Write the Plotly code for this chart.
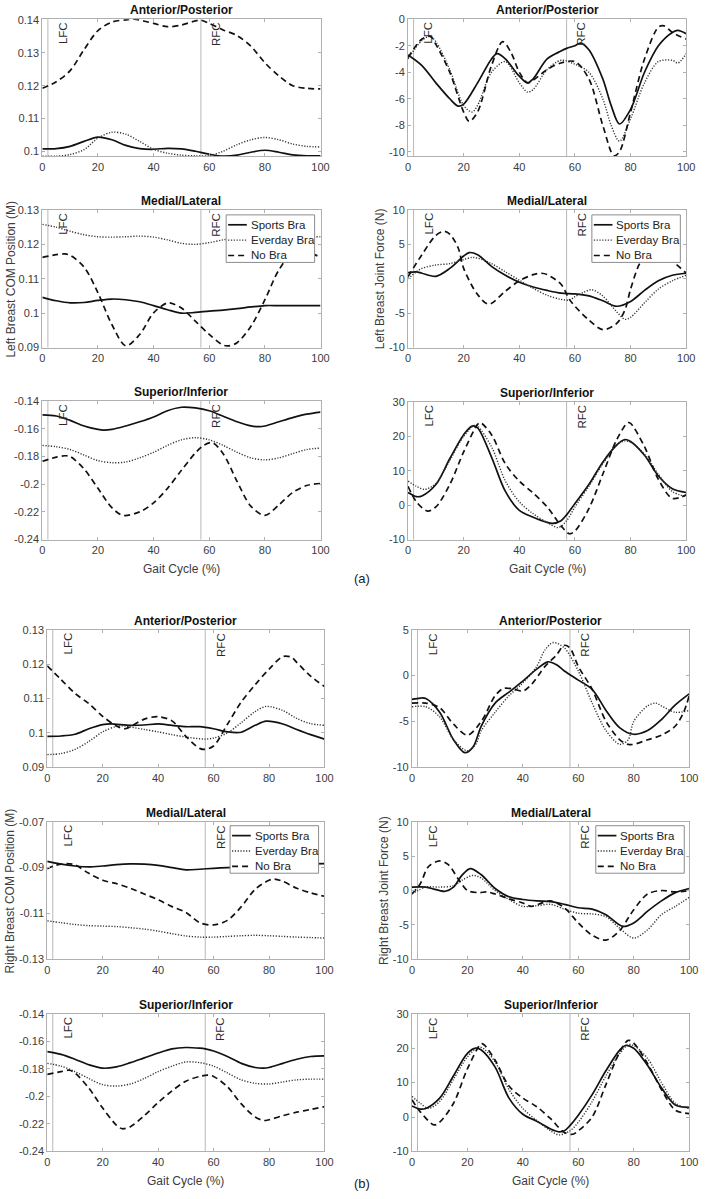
import plotly.graph_objects as go

W, H = 709, 1199
FONT = "Liberation Sans, Arial, Helvetica, sans-serif"

SERIES_NAMES = ["Sports Bra", "Everday Bra", "No Bra"]
GAIT_TICKS = [0, 20, 40, 60, 80, 100]
LFC_X = 2
RFC_X = 57

# ---------------- (a) Left breast ----------------
# COM position, Anterior/Posterior
LPOS_AP_SPORTS = [(0,.1007),(5,.1008),(10,.1015),(15,.1030),(20,.1043),(25,.1035),(30,.1018),(35,.1008),(40,.1006),(45,.1009),(50,.1007),(55,.1000),(60,.0991),(65,.0985),(70,.0988),(75,.0997),(80,.1003),(85,.0997),(90,.0989),(95,.0986),(100,.0986)]
LPOS_AP_EVERYDAY = [(0,.0985),(5,.0985),(10,.0990),(15,.1005),(20,.1040),(25,.1058),(30,.1052),(35,.1030),(40,.1006),(45,.0994),(50,.0988),(55,.0986),(60,.0987),(65,.1000),(70,.1020),(75,.1035),(80,.1042),(85,.1035),(90,.1022),(95,.1015),(100,.1013)]
LPOS_AP_NOBRA = [(0,.1192),(5,.1212),(10,.1246),(15,.1310),(20,.1368),(25,.1394),(30,.1401),(33,.1403),(40,.1390),(45,.1380),(50,.1385),(55,.1398),(57,.1400),(60,.1390),(65,.1370),(70,.1353),(75,.1320),(80,.1270),(85,.1230),(90,.1200),(95,.1192),(100,.1190)]
# Joint force, Anterior/Posterior
LFOR_AP_SPORTS = [(0,-2.7),(5,-3.5),(10,-4.8),(15,-6.0),(18,-6.55),(20,-6.4),(25,-4.8),(30,-3.0),(32,-2.6),(35,-3.0),(40,-4.3),(43,-4.8),(45,-4.5),(50,-3.0),(55,-2.4),(57,-2.2),(60,-2.0),(62,-1.8),(65,-2.3),(70,-4.5),(73,-6.5),(76,-7.9),(80,-6.8),(85,-4.0),(90,-2.0),(95,-1.0),(97,-0.85),(100,-1.1)]
LFOR_AP_EVERYDAY = [(0,-3.0),(5,-1.6),(8,-1.3),(10,-1.7),(15,-3.8),(20,-6.5),(23,-7.0),(25,-6.5),(30,-4.0),(35,-3.2),(40,-4.8),(43,-5.5),(45,-5.3),(50,-3.8),(55,-3.1),(60,-3.4),(65,-4.0),(70,-6.0),(73,-8.0),(76,-9.2),(80,-7.5),(85,-4.8),(90,-3.2),(95,-3.1),(97,-3.3),(100,-2.6)]
LFOR_AP_NOBRA = [(0,-2.9),(5,-1.5),(8,-1.3),(10,-1.9),(15,-4.0),(20,-7.0),(22,-7.7),(25,-7.0),(30,-3.5),(34,-1.7),(37,-2.5),(40,-4.0),(43,-4.8),(45,-4.6),(50,-3.8),(55,-3.3),(60,-3.2),(65,-4.5),(70,-8.0),(74,-10.3),(76,-10.0),(80,-7.0),(85,-3.0),(90,-0.6),(92,-0.5),(95,-1.0),(100,-1.5)]
# COM position, Medial/Lateral
LPOS_ML_SPORTS = [(0,.1046),(5,.1036),(10,.1030),(15,.1031),(20,.1037),(25,.1041),(30,.1039),(35,.1033),(40,.1022),(45,.1010),(50,.1000),(55,.1002),(60,.1006),(65,.1009),(70,.1013),(75,.1018),(80,.1022),(85,.1022),(90,.1022),(95,.1022),(100,.1022)]
LPOS_ML_EVERYDAY = [(0,.1258),(5,.1250),(10,.1238),(15,.1228),(20,.1222),(25,.1221),(30,.1222),(35,.1224),(40,.1221),(45,.1213),(50,.1203),(55,.1200),(60,.1205),(65,.1213),(70,.1218),(75,.1220),(80,.1220),(85,.1221),(90,.1222),(95,.1222),(100,.1222)]
LPOS_ML_NOBRA = [(0,.1162),(5,.1170),(8,.1172),(10,.1168),(15,.1134),(20,.1059),(25,.0967),(30,.0905),(35,.0938),(40,.1001),(45,.1030),(47,.1027),(50,.1015),(55,.0977),(60,.0938),(65,.0907),(67,.0905),(70,.0914),(75,.0962),(80,.1039),(85,.1125),(90,.1175),(95,.1178),(100,.1162)]
# Joint force, Medial/Lateral
LFOR_ML_SPORTS = [(0,0.9),(3,1.0),(5,0.8),(10,0.35),(15,1.5),(20,3.3),(22,3.8),(25,3.5),(30,1.8),(35,0.5),(40,-0.5),(45,-1.2),(50,-1.7),(55,-2.1),(60,-2.2),(65,-2.5),(70,-3.2),(75,-4.0),(80,-3.3),(85,-1.7),(90,-0.3),(95,0.5),(100,0.8)]
LFOR_ML_EVERYDAY = [(0,0.0),(3,1.0),(5,1.5),(10,2.0),(15,2.2),(20,2.8),(23,3.1),(25,3.0),(30,2.2),(35,1.0),(40,-0.2),(45,-1.4),(50,-2.4),(55,-3.0),(58,-3.1),(60,-2.6),(63,-2.0),(66,-1.6),(70,-2.5),(75,-4.8),(78,-5.9),(80,-5.6),(85,-3.5),(90,-1.5),(95,-0.3),(100,0.5)]
LFOR_ML_NOBRA = [(0,0.3),(5,3.5),(10,6.3),(13,6.9),(15,6.5),(18,4.5),(20,1.5),(25,-2.3),(29,-3.7),(35,-1.8),(40,-0.3),(45,0.6),(48,0.8),(50,0.6),(55,-0.8),(58,-3.0),(60,-4.0),(65,-6.0),(70,-7.4),(75,-6.5),(78,-4.5),(80,-1.5),(83,2.0),(85,3.2),(90,3.5),(95,2.5),(100,0.8)]
# COM position, Superior/Inferior
LPOS_SI_SPORTS = [(0,-.150),(5,-.1508),(10,-.154),(15,-.158),(20,-.1605),(22,-.161),(25,-.1605),(30,-.158),(35,-.155),(40,-.1515),(45,-.147),(50,-.1445),(55,-.145),(60,-.147),(65,-.151),(70,-.155),(75,-.158),(78,-.1585),(80,-.158),(85,-.155),(90,-.152),(95,-.1495),(100,-.148)]
LPOS_SI_EVERYDAY = [(0,-.172),(5,-.173),(10,-.175),(15,-.179),(20,-.183),(25,-.1845),(30,-.184),(35,-.181),(40,-.177),(45,-.172),(50,-.168),(55,-.1665),(60,-.168),(65,-.172),(70,-.177),(75,-.181),(80,-.1825),(85,-.181),(90,-.178),(95,-.175),(100,-.174)]
LPOS_SI_NOBRA = [(0,-.1835),(5,-.1805),(8,-.1795),(10,-.180),(15,-.189),(20,-.203),(25,-.217),(29,-.2225),(35,-.220),(40,-.2135),(45,-.203),(50,-.190),(55,-.1775),(58,-.172),(61,-.170),(65,-.178),(70,-.198),(75,-.216),(80,-.2225),(85,-.215),(90,-.206),(95,-.201),(100,-.1995)]
# Joint force, Superior/Inferior
LFOR_SI_SPORTS = [(0,3.7),(3,2.5),(5,2.7),(10,6.0),(15,13.5),(20,20.5),(23,23.0),(25,22.5),(30,14.0),(35,4.0),(40,-1.5),(45,-3.5),(50,-5.0),(52,-5.3),(55,-4.5),(57,-2.8),(60,0.5),(65,6.0),(70,12.5),(75,17.5),(78,19.1),(80,18.5),(85,14.5),(90,8.5),(95,4.8),(100,3.7)]
LFOR_SI_EVERYDAY = [(0,7.0),(3,5.5),(6,4.6),(10,6.3),(15,13.0),(20,20.0),(24,23.3),(25,23.0),(30,17.0),(35,7.0),(40,1.0),(45,-2.5),(50,-5.0),(54,-6.5),(57,-4.5),(60,-0.5),(65,5.5),(70,12.0),(75,17.5),(78,18.7),(80,18.3),(85,14.8),(90,9.0),(95,4.0),(100,2.5)]
LFOR_SI_NOBRA = [(0,5.5),(3,1.0),(7,-1.7),(10,-0.5),(15,6.0),(20,15.5),(25,23.5),(26,24.0),(30,20.5),(35,12.0),(40,7.0),(45,3.5),(50,-0.5),(55,-6.0),(58,-8.3),(60,-7.5),(65,-1.0),(70,9.0),(75,19.0),(79,24.0),(80,23.8),(85,17.0),(90,7.5),(95,2.0),(100,3.0)]

# ---------------- (b) Right breast ----------------
RPOS_AP_SPORTS = [(0,.0990),(5,.0991),(10,.0996),(15,.1012),(20,.1024),(23,.1026),(25,.1025),(30,.1022),(35,.1023),(40,.1026),(45,.1022),(50,.1018),(55,.1018),(60,.1012),(65,.1003),(70,.1002),(75,.1022),(79,.1034),(85,.1026),(90,.1010),(95,.0995),(100,.0982)]
RPOS_AP_EVERYDAY = [(0,.0937),(5,.0940),(10,.0952),(15,.0975),(20,.1003),(25,.1019),(28,.1020),(30,.1017),(35,.1010),(40,.1003),(45,.0995),(50,.0988),(55,.0983),(57,.0982),(60,.0985),(65,.1000),(70,.1030),(75,.1062),(79,.1077),(85,.1065),(90,.1042),(95,.1027),(100,.1022)]
RPOS_AP_NOBRA = [(0,.1195),(5,.1155),(10,.1115),(15,.1085),(20,.1048),(25,.1020),(28,.1012),(30,.1018),(35,.1040),(40,.1047),(45,.1035),(50,.0990),(55,.0955),(57,.0952),(60,.0962),(65,.1025),(70,.1090),(75,.1140),(80,.1185),(85,.1222),(88,.1220),(90,.1205),(95,.1165),(100,.1135)]
RFOR_AP_SPORTS = [(0,-2.6),(3,-2.45),(5,-2.5),(10,-4.0),(15,-7.0),(19,-8.4),(22,-7.8),(25,-5.5),(30,-3.0),(35,-1.8),(40,-0.6),(45,0.7),(49,1.5),(52,1.2),(55,0.5),(60,-0.5),(65,-1.5),(70,-3.8),(75,-5.7),(80,-6.4),(85,-6.0),(90,-4.8),(95,-3.2),(100,-2.0)]
RFOR_AP_EVERYDAY = [(0,-3.4),(5,-3.4),(10,-4.5),(15,-7.0),(20,-8.2),(23,-7.5),(25,-6.0),(30,-4.0),(35,-2.2),(40,-0.8),(45,1.0),(48,2.8),(51,3.6),(55,3.0),(60,0.5),(65,-3.0),(70,-6.0),(75,-7.5),(78,-7.0),(80,-5.0),(85,-3.3),(88,-3.0),(90,-3.3),(95,-4.0),(100,-3.8)]
RFOR_AP_NOBRA = [(0,-3.0),(5,-3.0),(10,-3.5),(15,-5.3),(20,-6.5),(25,-5.0),(30,-2.2),(33,-1.4),(37,-1.5),(40,-1.7),(43,-1.0),(48,1.0),(52,2.2),(55,3.3),(57,3.0),(60,1.0),(65,-1.5),(70,-5.0),(75,-7.0),(78,-7.5),(80,-7.5),(85,-7.0),(90,-6.5),(95,-5.5),(98,-4.0),(100,-2.2)]
RPOS_ML_SPORTS = [(0,-.0873),(5,-.0885),(10,-.0893),(15,-.0897),(20,-.0893),(25,-.0887),(30,-.0884),(35,-.0885),(40,-.0890),(45,-.0900),(50,-.0910),(55,-.0907),(60,-.0903),(65,-.0900),(70,-.0898),(75,-.0895),(80,-.0892),(85,-.0889),(90,-.0886),(95,-.0884),(100,-.0883)]
RPOS_ML_EVERYDAY = [(0,-.1132),(5,-.1140),(10,-.1148),(15,-.1153),(20,-.1155),(25,-.1157),(30,-.1162),(35,-.1168),(40,-.1177),(45,-.1188),(50,-.1198),(55,-.1203),(60,-.1203),(65,-.1200),(70,-.1197),(75,-.1195),(80,-.1197),(85,-.1200),(90,-.1203),(95,-.1205),(100,-.1207)]
RPOS_ML_NOBRA = [(0,-.0905),(3,-.0890),(7,-.0883),(10,-.0888),(15,-.0925),(20,-.0955),(25,-.0970),(30,-.0990),(35,-.1015),(40,-.1040),(45,-.1070),(50,-.1095),(55,-.1140),(60,-.1150),(65,-.1130),(70,-.1070),(75,-.0995),(80,-.0955),(82,-.0950),(85,-.0960),(90,-.0990),(95,-.1010),(100,-.1025)]
RFOR_ML_SPORTS = [(0,0.5),(5,0.5),(8,0.2),(10,0.0),(12,-0.1),(15,0.5),(18,2.2),(21,3.2),(25,2.3),(30,0.3),(35,-0.9),(40,-1.3),(45,-1.5),(50,-1.6),(55,-2.0),(60,-2.5),(65,-2.7),(70,-3.5),(76,-5.2),(80,-4.7),(85,-3.0),(90,-1.5),(95,-0.3),(100,0.3)]
RFOR_ML_EVERYDAY = [(0,-0.5),(5,0.5),(10,0.5),(15,0.7),(18,1.5),(22,2.2),(25,1.8),(30,0.0),(35,-1.3),(40,-2.3),(45,-2.2),(50,-2.0),(55,-2.7),(60,-3.3),(65,-3.4),(70,-3.8),(75,-5.5),(80,-6.9),(85,-5.7),(90,-3.5),(95,-2.3),(100,-1.0)]
RFOR_ML_NOBRA = [(0,-0.5),(3,1.0),(6,3.5),(10,4.3),(13,3.8),(17,1.5),(20,0.0),(24,-0.3),(27,-0.2),(30,-0.5),(35,-1.2),(40,-1.8),(43,-2.3),(47,-1.8),(50,-1.5),(55,-2.5),(60,-4.7),(65,-6.5),(70,-7.2),(75,-5.8),(78,-4.0),(80,-2.8),(85,-0.5),(90,0.0),(95,-0.2),(100,0.0)]
RPOS_SI_SPORTS = [(0,-.1675),(5,-.1695),(10,-.173),(15,-.177),(20,-.1795),(25,-.1785),(30,-.1755),(35,-.172),(40,-.1685),(45,-.1655),(50,-.1645),(55,-.165),(57,-.1655),(60,-.167),(65,-.171),(70,-.176),(75,-.179),(78,-.1795),(80,-.179),(85,-.176),(90,-.173),(95,-.171),(100,-.1705)]
RPOS_SI_EVERYDAY = [(0,-.176),(5,-.178),(10,-.182),(15,-.187),(20,-.1915),(25,-.1925),(30,-.191),(35,-.187),(40,-.182),(45,-.178),(50,-.175),(55,-.1755),(60,-.178),(65,-.183),(70,-.188),(75,-.1905),(80,-.191),(85,-.1895),(90,-.188),(95,-.1875),(100,-.1875)]
RPOS_SI_NOBRA = [(0,-.184),(5,-.182),(8,-.181),(10,-.183),(15,-.194),(20,-.2085),(25,-.221),(27,-.2235),(30,-.222),(35,-.214),(40,-.2045),(45,-.196),(50,-.189),(55,-.1855),(58,-.1845),(60,-.1855),(65,-.193),(70,-.2055),(75,-.215),(78,-.2175),(80,-.217),(85,-.214),(90,-.2115),(95,-.2095),(100,-.2075)]
RFOR_SI_SPORTS = [(0,3.2),(3,2.3),(5,2.5),(10,5.5),(15,12.0),(20,18.5),(23,20.0),(25,19.5),(30,14.5),(35,5.5),(40,0.8),(45,-1.2),(50,-3.5),(53,-4.3),(55,-4.0),(57,-2.5),(60,0.5),(65,6.5),(70,13.5),(75,19.5),(77,20.8),(80,20.0),(85,15.0),(90,8.5),(95,3.5),(100,2.8)]
RFOR_SI_EVERYDAY = [(0,6.0),(3,4.0),(6,2.5),(10,4.5),(15,11.0),(20,17.5),(24,20.3),(26,19.8),(30,16.0),(35,8.0),(40,2.5),(45,-1.0),(50,-4.0),(53,-5.2),(57,-4.0),(60,-1.5),(65,4.5),(70,12.0),(75,18.5),(78,21.0),(80,20.8),(85,17.0),(90,10.0),(95,4.0),(100,2.5)]
RFOR_SI_NOBRA = [(0,5.0),(3,1.5),(8,-2.3),(10,-1.5),(15,4.0),(20,14.0),(25,21.3),(26,21.0),(30,16.5),(35,9.0),(40,5.5),(45,3.0),(50,-0.5),(55,-4.5),(58,-5.0),(60,-4.0),(65,0.0),(70,9.5),(75,19.0),(78,22.3),(80,21.5),(85,15.5),(90,8.0),(95,2.0),(100,1.0)]

# axis tick values
POS_AP_TICKS_A = [0.10, 0.11, 0.12, 0.13, 0.14]
POS_AP_TICKS_B = [0.09, 0.10, 0.11, 0.12, 0.13]
POS_ML_TICKS_A = [0.09, 0.10, 0.11, 0.12, 0.13]
POS_ML_TICKS_B = [-0.13, -0.11, -0.09, -0.07]
POS_SI_TICKS = [-0.24, -0.22, -0.20, -0.18, -0.16, -0.14]
FOR_AP_TICKS_A = [-10, -8, -6, -4, -2, 0]
FOR_AP_TICKS_B = [-10, -5, 0, 5]
FOR_ML_TICKS = [-10, -5, 0, 5, 10]
FOR_SI_TICKS = [-10, 0, 10, 20, 30]

# ---------------- layout / panel definitions (pixel boxes) ----------------
PANELS = [
    dict(box=(40, 323, 13.3, 152), yr=[0.0984, 0.1403], ticks=POS_AP_TICKS_A, title="Anterior/Posterior",
         data=[LPOS_AP_SPORTS, LPOS_AP_EVERYDAY, LPOS_AP_NOBRA]),
    dict(box=(412, 695, 13.3, 152), yr=[-10.35, 0], ticks=FOR_AP_TICKS_A, title="Anterior/Posterior",
         data=[LFOR_AP_SPORTS, LFOR_AP_EVERYDAY, LFOR_AP_NOBRA]),
    dict(box=(40, 323, 206, 345), yr=[0.09, 0.13], ticks=POS_ML_TICKS_A, title="Medial/Lateral",
         data=[LPOS_ML_SPORTS, LPOS_ML_EVERYDAY, LPOS_ML_NOBRA], ylabel="Left Breast COM Position (M)",
         ylabel_x=8, legend=(227, 211)),
    dict(box=(412, 695, 206, 345), yr=[-10, 10], ticks=FOR_ML_TICKS, title="Medial/Lateral",
         data=[LFOR_ML_SPORTS, LFOR_ML_EVERYDAY, LFOR_ML_NOBRA], ylabel="Left Breast Joint Force (N)",
         ylabel_x=383, legend=(599, 211)),
    dict(box=(40, 323, 399, 539), yr=[-0.24, -0.14], ticks=POS_SI_TICKS, title="Superior/Inferior",
         data=[LPOS_SI_SPORTS, LPOS_SI_EVERYDAY, LPOS_SI_NOBRA], xlabel=True),
    dict(box=(412, 695, 400, 539), yr=[-10, 30], ticks=FOR_SI_TICKS, title="Superior/Inferior",
         data=[LFOR_SI_SPORTS, LFOR_SI_EVERYDAY, LFOR_SI_NOBRA], xlabel=True),
    dict(box=(45, 327, 630, 769), yr=[0.09, 0.13], ticks=POS_AP_TICKS_B, title="Anterior/Posterior",
         data=[RPOS_AP_SPORTS, RPOS_AP_EVERYDAY, RPOS_AP_NOBRA]),
    dict(box=(416, 698, 630, 769), yr=[-10, 5], ticks=FOR_AP_TICKS_B, title="Anterior/Posterior",
         data=[RFOR_AP_SPORTS, RFOR_AP_EVERYDAY, RFOR_AP_NOBRA]),
    dict(box=(45, 327, 824, 963), yr=[-0.13, -0.07], ticks=POS_ML_TICKS_B, title="Medial/Lateral",
         data=[RPOS_ML_SPORTS, RPOS_ML_EVERYDAY, RPOS_ML_NOBRA], ylabel="Right Breast COM Position (M)",
         ylabel_x=7, legend=(231, 828)),
    dict(box=(416, 698, 824, 963), yr=[-10, 10], ticks=FOR_ML_TICKS, title="Medial/Lateral",
         data=[RFOR_ML_SPORTS, RFOR_ML_EVERYDAY, RFOR_ML_NOBRA], ylabel="Right Breast Joint Force (N)",
         ylabel_x=387, legend=(603, 828)),
    dict(box=(45, 327, 1018, 1157), yr=[-0.24, -0.14], ticks=POS_SI_TICKS, title="Superior/Inferior",
         data=[RPOS_SI_SPORTS, RPOS_SI_EVERYDAY, RPOS_SI_NOBRA], xlabel=True),
    dict(box=(416, 698, 1018, 1157), yr=[-10, 30], ticks=FOR_SI_TICKS, title="Superior/Inferior",
         data=[RFOR_SI_SPORTS, RFOR_SI_EVERYDAY, RFOR_SI_NOBRA], xlabel=True),
]

STYLES = [
    dict(color="#111111", width=1.7, dash="solid"),
    dict(color="#333333", width=1.4, dash="1.2px,1.6px"),
    dict(color="#111111", width=1.7, dash="6px,4px"),
]

AXIS_COLOR = "#b0b0b0"
TEXT_COLOR = "#3c3c3c"
LEGEND_W, LEGEND_H = 90, 48
LEGEND_ROWS = [10, 25.5, 41]


def fmt(v):
    return f"{v:g}"


def px_x(v):
    return v / W


def px_y(v):
    return 1 - v / H


fig = go.Figure()
layout = dict(
    width=W, height=H, margin=dict(l=0, r=0, t=0, b=0),
    paper_bgcolor="white", plot_bgcolor="white",
    font=dict(family=FONT, size=11, color=TEXT_COLOR),
    showlegend=False,
)
annotations = []
shapes = []

for i, p in enumerate(PANELS, start=1):
    x0, x1, y0, y1 = p["box"]
    xa = "x" if i == 1 else f"x{i}"
    ya = "y" if i == 1 else f"y{i}"
    xkey = "xaxis" if i == 1 else f"xaxis{i}"
    ykey = "yaxis" if i == 1 else f"yaxis{i}"

    for s, series in enumerate(p["data"]):
        xs = [pt[0] for pt in series]
        ys = [pt[1] for pt in series]
        fig.add_trace(go.Scatter(
            x=xs, y=ys, mode="lines", name=SERIES_NAMES[s],
            line=dict(shape="spline", smoothing=0.9, **STYLES[s]),
            xaxis=xa, yaxis=ya, hoverinfo="skip",
        ))

    layout[xkey] = dict(
        domain=[x0 / W, x1 / W], anchor=ya, range=[0, 100],
        tickvals=GAIT_TICKS, ticktext=[fmt(v) for v in GAIT_TICKS],
        showline=True, linecolor=AXIS_COLOR, linewidth=1, mirror="ticks",
        ticks="inside", ticklen=3, tickcolor=AXIS_COLOR, showgrid=False, zeroline=False,
        tickfont=dict(size=11, color=TEXT_COLOR, family=FONT),
    )
    layout[ykey] = dict(
        domain=[1 - y1 / H, 1 - y0 / H], anchor=xa, range=p["yr"],
        tickvals=p["ticks"], ticktext=[fmt(v) for v in p["ticks"]],
        showline=True, linecolor=AXIS_COLOR, linewidth=1, mirror="ticks",
        ticks="inside", ticklen=3, tickcolor=AXIS_COLOR, showgrid=False, zeroline=False,
        tickfont=dict(size=11, color=TEXT_COLOR, family=FONT),
    )

    # event lines
    for ev_x, ev_t in ((LFC_X, "LFC"), (RFC_X, "RFC")):
        shapes.append(dict(type="line", xref=xa, yref=f"{ya} domain", x0=ev_x, x1=ev_x, y0=0, y1=1,
                           line=dict(color="#b8b8b8", width=1), layer="below"))
        annotations.append(dict(x=ev_x, y=1, xref=xa, yref=f"{ya} domain", text=ev_t, textangle=-90,
                                xanchor="left", yanchor="top", showarrow=False, xshift=7, yshift=-1,
                                font=dict(family=FONT, size=11.5, color="#2a2a2a")))

    # legend box (MATLAB style) for the medial/lateral panels
    if "legend" in p:
        lx, ly = p["legend"]
        shapes.append(dict(type="rect", xref="paper", yref="paper",
                           x0=px_x(lx), x1=px_x(lx + LEGEND_W), y0=px_y(ly + LEGEND_H), y1=px_y(ly),
                           fillcolor="white", line=dict(color="#8c8c8c", width=1), layer="above"))
        for s, name in enumerate(SERIES_NAMES):
            ry = ly + LEGEND_ROWS[s]
            st = STYLES[s]
            shapes.append(dict(type="line", xref="paper", yref="paper",
                               x0=px_x(lx + 2), x1=px_x(lx + 21), y0=px_y(ry), y1=px_y(ry),
                               line=dict(color=st["color"], width=st["width"], dash=st["dash"]),
                               layer="above"))
            annotations.append(dict(x=px_x(lx + 23), y=px_y(ry), xref="paper", yref="paper",
                                    text=name, showarrow=False, xanchor="left", yanchor="middle",
                                    font=dict(family=FONT, size=11.5, color="#222222")))

    # panel title
    annotations.append(dict(x=(x0 + x1) / 2 / W, y=1 - y0 / H, xref="paper", yref="paper",
                            text=f"<b>{p['title']}</b>", showarrow=False, xanchor="center",
                            yanchor="bottom", yshift=0,
                            font=dict(family=FONT, size=12, color="#111111")))
    if "ylabel" in p:
        annotations.append(dict(x=p["ylabel_x"] / W, y=1 - (y0 + y1) / 2 / H, xref="paper", yref="paper",
                                text=p["ylabel"], textangle=-90, showarrow=False,
                                xanchor="center", yanchor="middle",
                                font=dict(family=FONT, size=12, color=TEXT_COLOR)))
    if p.get("xlabel"):
        annotations.append(dict(x=(x0 + x1) / 2 / W, y=1 - (y1 + 21) / H, xref="paper", yref="paper",
                                text="Gait Cycle (%)", showarrow=False, xanchor="center", yanchor="top",
                                font=dict(family=FONT, size=12, color=TEXT_COLOR)))

annotations.append(dict(x=355 / W, y=1 - 578 / H, xref="paper", yref="paper", text="(a)",
                        showarrow=False, xanchor="left", yanchor="middle",
                        font=dict(family=FONT, size=13, color="#222222")))
annotations.append(dict(x=355 / W, y=1 - 1189 / H, xref="paper", yref="paper", text="(b)",
                        showarrow=False, xanchor="left", yanchor="middle",
                        font=dict(family=FONT, size=13, color="#222222")))

layout["annotations"] = annotations
layout["shapes"] = shapes
fig.update_layout(**layout)
fig.write_html("out.html")
